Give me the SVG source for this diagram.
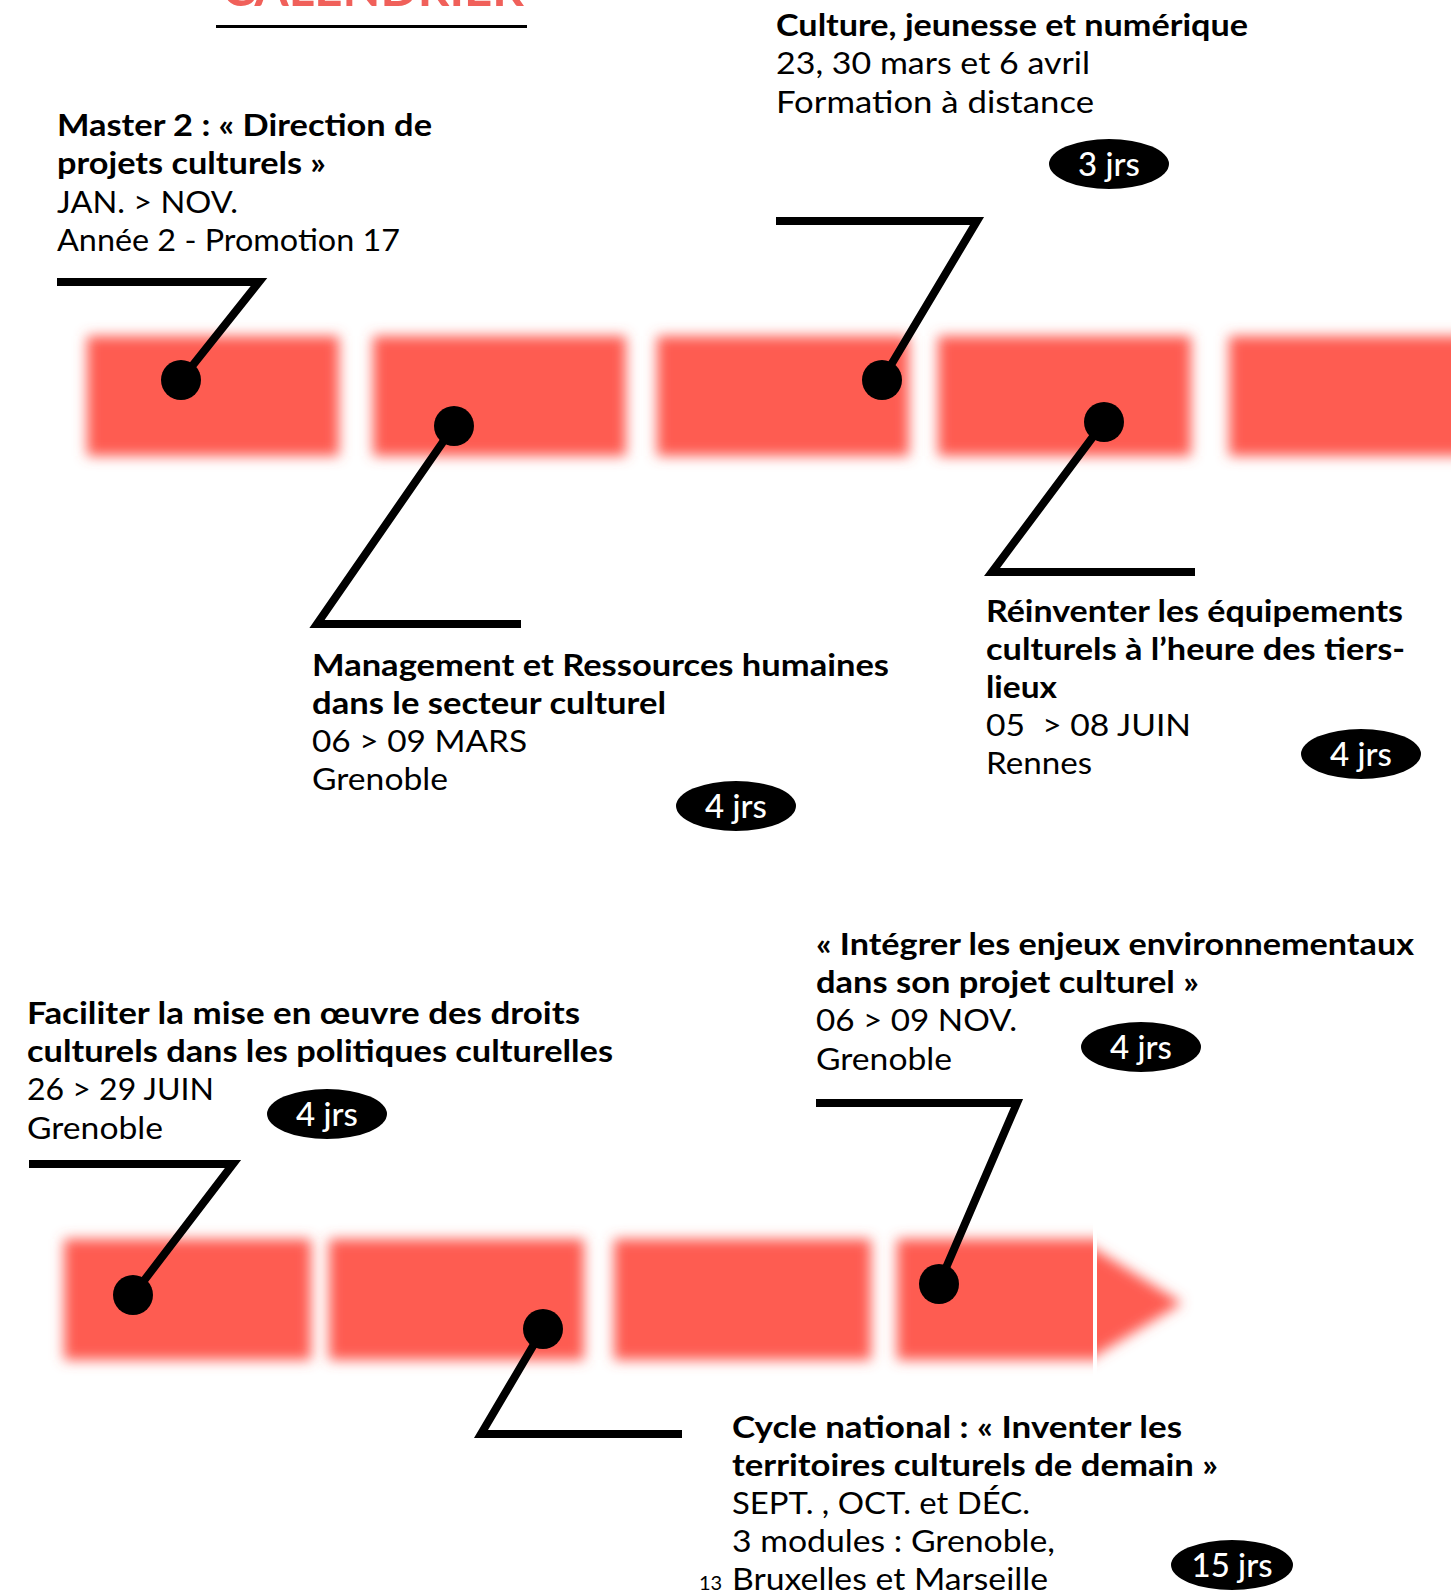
<svg xmlns="http://www.w3.org/2000/svg" width="1451" height="1593" viewBox="0 0 1451 1593">
<defs>
<filter id="blur" x="-15%" y="-30%" width="130%" height="160%"><feGaussianBlur stdDeviation="6.5"/></filter>
<clipPath id="clipB4"><rect x="0" y="1200" width="1093" height="200"/></clipPath>
<clipPath id="clipArr"><rect x="1097" y="1200" width="200" height="200"/></clipPath>
</defs>
<style>
.t{font-family:Lato,"Liberation Sans",sans-serif;font-size:30px;fill:#000}
.b{font-weight:700}
.r{font-weight:400}
.bar{fill:#fe5b51;filter:url(#blur)}
.badge{fill:#000}
.bt{font-family:Lato,"Liberation Sans",sans-serif;font-size:33px;font-weight:500;fill:#fff;text-anchor:middle}
.ln{fill:none;stroke:#000;stroke-width:8;stroke-linejoin:miter;stroke-miterlimit:10}
.dot{fill:#000}
</style>
<rect width="1451" height="1593" fill="#fff"/>

<g id="title">
<text x="222" y="6" font-family="Lato,'Liberation Sans',sans-serif" font-weight="700" font-size="48" fill="#f0605a" textLength="302" lengthAdjust="spacingAndGlyphs">CALENDRIER</text>
<line x1="216" y1="26.5" x2="527" y2="26.5" stroke="#000" stroke-width="3"/>
</g>

<g id="timeline">
<rect class="bar" x="87" y="336" width="252" height="120"/>
<rect class="bar" x="373" y="336" width="253" height="120"/>
<rect class="bar" x="657" y="336" width="252" height="120"/>
<rect class="bar" x="938" y="336" width="253" height="120"/>
<rect class="bar" x="1229" y="336" width="240" height="120"/>
<rect class="bar" x="64" y="1239" width="247" height="121"/>
<rect class="bar" x="329" y="1239" width="255" height="121"/>
<rect class="bar" x="614" y="1239" width="257" height="121"/>
<g clip-path="url(#clipB4)"><rect class="bar" x="897" y="1239" width="210" height="121"/></g>
<g clip-path="url(#clipArr)"><path class="bar" d="M1082 1241 L1182 1303 L1082 1364 Z"/></g>
</g>

<g id="connectors">
<path class="ln" d="M57 282 H259 L181 380"/>
<path class="ln" d="M776 221 H977 L882 380"/>
<path class="ln" d="M454 426 L317 624 H521"/>
<path class="ln" d="M1104 422 L992 572 H1195"/>
<path class="ln" d="M29 1164 H233 L133 1295"/>
<path class="ln" d="M816 1103 H1017 L939 1284"/>
<path class="ln" d="M543 1329 L481 1434 H682"/>
<circle class="dot" cx="181" cy="380" r="20"/>
<circle class="dot" cx="882" cy="380" r="20"/>
<circle class="dot" cx="454" cy="426" r="20"/>
<circle class="dot" cx="1104" cy="422" r="20"/>
<circle class="dot" cx="133" cy="1295" r="20"/>
<circle class="dot" cx="543" cy="1329" r="20"/>
<circle class="dot" cx="939" cy="1284" r="20"/>
</g>

<g id="n1">
<text class="t b" x="57" y="136" textLength="375" lengthAdjust="spacingAndGlyphs">Master 2 : « Direction de</text>
<text class="t b" x="57" y="174" textLength="269" lengthAdjust="spacingAndGlyphs">projets culturels »</text>
<text class="t r" x="57" y="213" textLength="181" lengthAdjust="spacingAndGlyphs">JAN. &gt; NOV.</text>
<text class="t r" x="57" y="251" textLength="343" lengthAdjust="spacingAndGlyphs">Année 2 - Promotion 17</text>
</g>

<g id="n2">
<text class="t b" x="776" y="36" textLength="472" lengthAdjust="spacingAndGlyphs">Culture, jeunesse et numérique</text>
<text class="t r" x="776" y="74" textLength="314" lengthAdjust="spacingAndGlyphs">23, 30 mars et 6 avril</text>
<text class="t r" x="776" y="113" textLength="318" lengthAdjust="spacingAndGlyphs">Formation à distance</text>
<ellipse class="badge" cx="1109" cy="164" rx="60" ry="25"/>
<text class="bt" x="1109" y="176">3 jrs</text>
</g>

<g id="n3">
<text class="t b" x="312" y="676" textLength="577" lengthAdjust="spacingAndGlyphs">Management et Ressources humaines</text>
<text class="t b" x="312" y="714" textLength="354" lengthAdjust="spacingAndGlyphs">dans le secteur culturel</text>
<text class="t r" x="312" y="752" textLength="215" lengthAdjust="spacingAndGlyphs">06 &gt; 09 MARS</text>
<text class="t r" x="312" y="790" textLength="136" lengthAdjust="spacingAndGlyphs">Grenoble</text>
<ellipse class="badge" cx="736" cy="806" rx="60" ry="25"/>
<text class="bt" x="736" y="818">4 jrs</text>
</g>

<g id="n4">
<text class="t b" x="986" y="622" textLength="417" lengthAdjust="spacingAndGlyphs">Réinventer les équipements</text>
<text class="t b" x="986" y="660" textLength="419" lengthAdjust="spacingAndGlyphs">culturels à l’heure des tiers-</text>
<text class="t b" x="986" y="698" textLength="71" lengthAdjust="spacingAndGlyphs">lieux</text>
<text class="t r" x="986" y="736" textLength="205" lengthAdjust="spacingAndGlyphs" xml:space="preserve">05  &gt; 08 JUIN</text>
<text class="t r" x="986" y="774" textLength="106" lengthAdjust="spacingAndGlyphs">Rennes</text>
<ellipse class="badge" cx="1361" cy="754" rx="60" ry="25"/>
<text class="bt" x="1361" y="766">4 jrs</text>
</g>

<g id="n5">
<text class="t b" x="27" y="1024" textLength="553" lengthAdjust="spacingAndGlyphs">Faciliter la mise en œuvre des droits</text>
<text class="t b" x="27" y="1062" textLength="586" lengthAdjust="spacingAndGlyphs">culturels dans les politiques culturelles</text>
<text class="t r" x="27" y="1100" textLength="187" lengthAdjust="spacingAndGlyphs">26 &gt; 29 JUIN</text>
<text class="t r" x="27" y="1139" textLength="136" lengthAdjust="spacingAndGlyphs">Grenoble</text>
<ellipse class="badge" cx="327" cy="1114" rx="60" ry="25"/>
<text class="bt" x="327" y="1126">4 jrs</text>
</g>

<g id="n6">
<text class="t b" x="816" y="955" textLength="598" lengthAdjust="spacingAndGlyphs">« Intégrer les enjeux environnementaux</text>
<text class="t b" x="816" y="993" textLength="383" lengthAdjust="spacingAndGlyphs">dans son projet culturel »</text>
<text class="t r" x="816" y="1031" textLength="201" lengthAdjust="spacingAndGlyphs">06 &gt; 09 NOV.</text>
<text class="t r" x="816" y="1070" textLength="136" lengthAdjust="spacingAndGlyphs">Grenoble</text>
<ellipse class="badge" cx="1141" cy="1047" rx="60" ry="25"/>
<text class="bt" x="1141" y="1059">4 jrs</text>
</g>

<g id="n7">
<text class="t b" x="732" y="1438" textLength="450" lengthAdjust="spacingAndGlyphs">Cycle national : « Inventer les</text>
<text class="t b" x="732" y="1476" textLength="486" lengthAdjust="spacingAndGlyphs">territoires culturels de demain »</text>
<text class="t r" x="732" y="1514" textLength="298" lengthAdjust="spacingAndGlyphs">SEPT. , OCT. et DÉC.</text>
<text class="t r" x="732" y="1552" textLength="323" lengthAdjust="spacingAndGlyphs">3 modules : Grenoble,</text>
<text class="t r" x="732" y="1590" textLength="316" lengthAdjust="spacingAndGlyphs">Bruxelles et Marseille</text>
<ellipse class="badge" cx="1232" cy="1565" rx="61" ry="25"/>
<text class="bt" x="1232" y="1577">15 jrs</text>
</g>

<g id="page">
<text x="699" y="1590" font-family="Lato,'Liberation Sans',sans-serif" font-size="20" fill="#000">13</text>
</g>
</svg>
